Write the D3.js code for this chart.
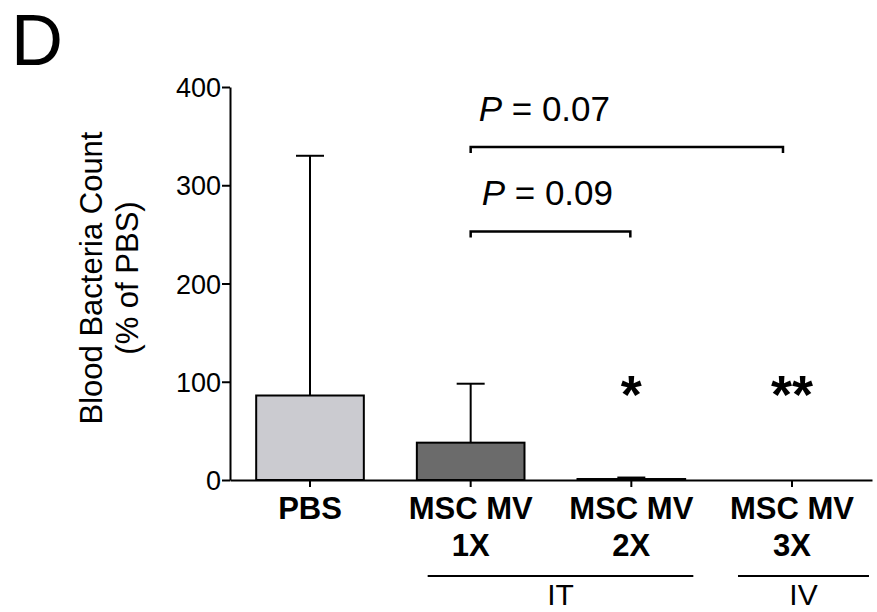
<!DOCTYPE html>
<html>
<head>
<meta charset="utf-8">
<script src="https://cdnjs.cloudflare.com/ajax/libs/d3/7.8.5/d3.min.js"></script>
<style>
body{margin:0;background:#fff;}
svg{display:block;font-family:"Liberation Sans",Arial,Helvetica,sans-serif;}
</style>
</head>
<body>
<svg id="chart" width="877" height="612"></svg>
<script>
'use strict';
/*
 *	Data
 */
var groups=["PBS","MSC MV 1X","MSC MV 2X","MSC MV 3X"];
var labelLines=[["PBS"],["MSC MV","1X"],["MSC MV","2X"],["MSC MV","3X"]];
var means=[86,38,1,0];
var errors=[244,60,1.5,0];
var barColors=["#cbcbd0","#6b6b6b","#6b6b6b","#6b6b6b"];
var stars=["","","*","**"];
var yTicks=[0,100,200,300,400];
var pTexts=["0.07","0.09"];
var pFrom=[1,1];
var pTo=[3,2];
var pLevel=[339,253];

var svg=d3.select("#chart");

// scales
var x=d3.scaleBand().domain(groups).range([230,872]).paddingInner(0.33).paddingOuter(0.163);
var y=d3.scaleLinear().domain([0,400]).range([480,87]);
function cx(i){ return x(groups[i])+x.bandwidth()/2; }

// panel letter
svg.append("text").attr("x",11).attr("y",65).attr("font-size",72).text("D");

// y axis
var yAxis=svg.append("g").attr("transform","translate(230,0)")
	.call(d3.axisLeft(y).tickValues(yTicks).tickSize(8).tickSizeOuter(0).tickPadding(1));
yAxis.selectAll("path,line").attr("stroke","#000").attr("stroke-width",2);
yAxis.selectAll("text").attr("font-size",27).attr("font-family","inherit").attr("fill","#000").attr("dy","0.36em");

// y title
var yt=svg.append("text").attr("transform","translate(102,278) rotate(-90)")
	.attr("text-anchor","middle").attr("font-size",31);
yt.append("tspan").attr("x",0).attr("y",0).text("Blood Bacteria Count");
yt.append("tspan").attr("x",0).attr("y",36).text("(% of PBS)");

// error bars
groups.forEach(function(g,i){
	if(errors[i]<=0) return;
	var c=cx(i);
	svg.append("line").attr("x1",c).attr("x2",c).attr("y1",y(means[i])).attr("y2",y(means[i]+errors[i]))
		.attr("stroke","#000").attr("stroke-width",2);
	svg.append("line").attr("x1",c-14).attr("x2",c+14).attr("y1",y(means[i]+errors[i])).attr("y2",y(means[i]+errors[i]))
		.attr("stroke","#000").attr("stroke-width",2);
});

// bars
svg.selectAll("rect.bar").data(groups).enter().append("rect")
	.attr("class","bar")
	.attr("x",function(d){ return x(d); })
	.attr("y",function(d,i){ return y(means[i]); })
	.attr("width",x.bandwidth())
	.attr("height",function(d,i){ return y(0)-y(means[i]); })
	.attr("fill",function(d,i){ return barColors[i]; })
	.attr("stroke",function(d,i){ return means[i]>0?"#000":"none"; })
	.attr("stroke-width",2);

// x axis
var xAxis=svg.append("g").attr("transform","translate(0,"+y(0)+")")
	.call(d3.axisBottom(x).tickSize(7).tickSizeOuter(0).tickFormat(""));
xAxis.selectAll("path,line").attr("stroke","#000").attr("stroke-width",2);

// x labels
groups.forEach(function(g,i){
	var t=svg.append("text").attr("text-anchor","middle").attr("font-size",31).attr("font-weight","bold");
	labelLines[i].forEach(function(s,k){
		t.append("tspan").attr("x",cx(i)).attr("y",519+k*37).text(s);
	});
});

// stars
groups.forEach(function(g,i){
	if(!stars[i]) return;
	svg.append("text").attr("x",cx(i)).attr("y",413).attr("text-anchor","middle")
		.attr("font-size",54).attr("font-weight","bold").text(stars[i]);
});

// significance brackets
pTexts.forEach(function(p,k){
	var x1=cx(pFrom[k]), x2=cx(pTo[k])-(pTo[k]==3?9:1), yy=y(pLevel[k]);
	svg.append("path").attr("d","M"+x1+","+(yy+6)+"V"+yy+"H"+x2+"V"+(yy+6))
		.attr("fill","none").attr("stroke","#000").attr("stroke-width",2.5);
	var t=svg.append("text").attr("x",x1+8+(k*3)).attr("y",yy-26).attr("font-size",35);
	t.append("tspan").attr("font-style","italic").text("P");
	t.append("tspan").text(" = "+p);
});

// route group lines
var routes=[{name:"IT",a:1,b:2,l:-43,r:62},{name:"IV",a:3,b:3,l:-54,r:77}];
routes.forEach(function(r){
	var x1=cx(r.a)+r.l, x2=cx(r.b)+r.r;
	svg.append("line").attr("x1",x1).attr("x2",x2).attr("y1",576).attr("y2",576)
		.attr("stroke","#000").attr("stroke-width",2);
	svg.append("text").attr("x",(x1+x2)/2).attr("y",605).attr("text-anchor","middle")
		.attr("font-size",30).text(r.name);
});
</script>
</body>
</html>
